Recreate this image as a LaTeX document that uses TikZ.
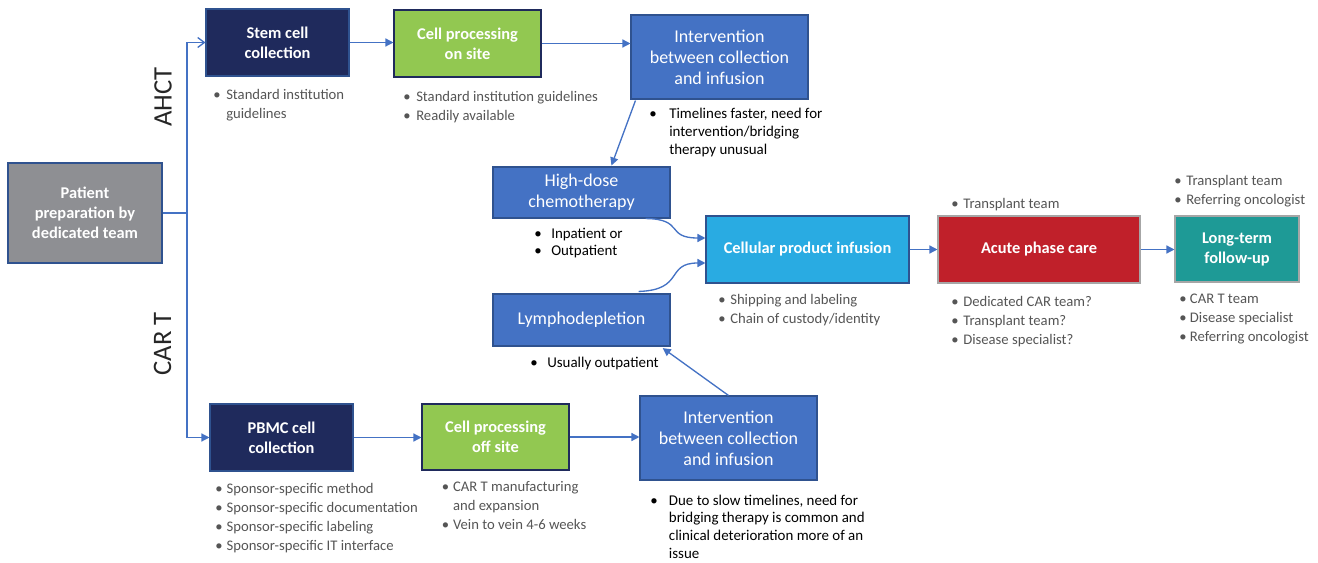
\documentclass[tikz,border=0pt]{standalone}
\usepackage{fontspec}
\setmainfont{Carlito}
\usetikzlibrary{arrows.meta,calc}

\definecolor{navy}{HTML}{1F2A5C}
\definecolor{leaf}{HTML}{92C851}
\definecolor{steel}{HTML}{4472C4}
\definecolor{sky}{HTML}{29ABE2}
\definecolor{crimson}{HTML}{C0202A}
\definecolor{teal}{HTML}{1E9A96}
\definecolor{slate}{HTML}{8E8F93}
\definecolor{rim}{HTML}{2F528F}
\definecolor{rimgray}{HTML}{A6A6A6}
\definecolor{notegray}{HTML}{555555}
\definecolor{titlegray}{HTML}{262626}

\newcommand{\blist}[2]{\begin{tabular}[t]{@{}p{#1}@{}l@{}}#2\end{tabular}}

\begin{document}
\begin{tikzpicture}[x=0.75pt,y=-0.75pt,
  box/.style={draw=#1,line width=0.8pt,inner sep=0pt,align=center,text=white},
  sz/.style 2 args={minimum width=#1*0.75pt,minimum height=#2*0.75pt},
  strong/.style={font=\fontsize{12.3}{15}\selectfont\bfseries},
  light/.style={font=\fontsize{13.5}{15.75}\selectfont},
  note/.style={anchor=base west,inner sep=0pt,text=notegray,font=\fontsize{11}{14.25}\selectfont},
  dark/.style={text=black,font=\fontsize{11.2}{13.25}\selectfont},
  track/.style={text=titlegray,font=\fontsize{20}{24}\selectfont,rotate=90},
  link/.style={draw=steel,line width=1pt,-{Triangle[length=6pt,width=6pt]}}]
\useasboundingbox (0,0) rectangle (1318,563);

% boxes
\node[box=rim,fill=slate,strong,sz={154}{100}] (patient) at (85,213) {Patient\\preparation by\\dedicated team};
\node[box=rim,fill=navy,strong,sz={143}{67}] (stem) at (277.5,42.5) {Stem cell\\collection};
\node[box=navy,fill=leaf,strong,sz={147}{67}] (onsite) at (467.5,43.5) {Cell processing\\on site};
\node[box=rim,fill=steel,light,sz={177}{84}] (intA) at (719.5,57) {Intervention\\between collection\\and infusion};
\node[box=rim,fill=steel,light,sz={177}{51}] (hd) at (581.5,192.5) {High-dose\\chemotherapy};
\node[box=rim,fill=steel,light,sz={177}{52}] (lymph) at (581.5,320) {Lymphodepletion};
\node[box=rim,fill=sky,strong,sz={203}{67}] (cell) at (807.5,249.5) {Cellular product infusion};
\node[box=rimgray,fill=crimson,strong,sz={202}{67}] (acute) at (1039,249.5) {Acute phase care};
\node[box=rimgray,fill=teal,strong,sz={124}{66}] (lt) at (1237,249) {Long-term\\follow-up};
\node[box=rim,fill=navy,strong,sz={143}{67}] (pbmc) at (281.5,437.5) {PBMC cell\\collection};
\node[box=navy,fill=leaf,strong,sz={147}{66}] (offsite) at (495.5,437) {Cell processing\\off site};
\node[box=rim,fill=steel,light,sz={177}{84}] (intB) at (728.5,438) {Intervention\\between collection\\and infusion};

% track labels
\node[track] (ahct) at (163,97) {AHCT};
\node[track] (cart) at (162.5,344) {CAR T};

% notes
\node[note] (stemN) at (213,99.5) {\blist{9.75pt}{\textbullet & Standard institution\\ & guidelines}};
\node[note] (onsiteN) at (403,101.5) {\blist{9.75pt}{\textbullet & Standard institution guidelines\\ \textbullet & Readily available}};
\node[note,dark] (intAN) at (649,119) {\blist{15pt}{\textbullet & Timelines faster, need for\\ & intervention/bridging\\ & therapy unusual}};
\node[note,dark] (hdN) at (534,238.3) {\blist{12.75pt}{\textbullet & Inpatient or\\ \textbullet & Outpatient}};
\node[note,dark] (lymphN) at (530,367.3) {\blist{12.75pt}{\textbullet & Usually outpatient}};
\node[note] (cellN) at (718,304) {\blist{9pt}{\textbullet & Shipping and labeling\\ \textbullet & Chain of custody/identity}};
\node[note] (acuteT) at (951,208.7) {\blist{9pt}{\textbullet & Transplant team}};
\node[note] (acuteN) at (951,306.7) {\blist{9pt}{\textbullet & Dedicated CAR team?\\ \textbullet & Transplant team?\\ \textbullet & Disease specialist?}};
\node[note] (ltT) at (1174,185.7) {\blist{9pt}{\textbullet & Transplant team\\ \textbullet & Referring oncologist}};
\node[note] (ltN) at (1179,303.3) {\blist{8pt}{\textbullet & CAR T team\\ \textbullet & Disease specialist\\ \textbullet & Referring oncologist}};
\node[note] (pbmcN) at (215,493.3) {\blist{8.5pt}{\textbullet & Sponsor-specific method\\ \textbullet & Sponsor-specific documentation\\ \textbullet & Sponsor-specific labeling\\ \textbullet & Sponsor-specific IT interface}};
\node[note] (offsiteN) at (441.5,491.7) {\blist{8.5pt}{\textbullet & CAR T manufacturing\\ & and expansion\\ \textbullet & Vein to vein 4-6 weeks}};
\node[note,dark] (intBN) at (650,505) {\blist{14pt}{\textbullet & Due to slow timelines, need for\\ & bridging therapy is common and\\ & clinical deterioration more of an\\ & issue}};

% connectors
\coordinate (fork) at (187,213);
\draw[steel,line width=1pt] (patient.east) -- (fork);
\draw[link,-{Straight Barb[length=5pt,width=7.5pt]}] (fork) |- (stem.west);
\draw[link] (fork) |- (pbmc.west);
\foreach \a/\b in {stem/onsite,onsite/intA,pbmc/offsite,offsite/intB,cell/acute,acute/lt}
  \draw[link] (\a.east) -- (\a.east -| \b.west);
\draw[link] ($(intA.south west)+(5,1)$) -- ($(hd.north west)+(119,-1)$);
\draw[link,shorten >=2pt] (intB.north) -- ($(lymph.south east)+(-10,0)$);
\draw[link] ($(hd.south east)+(-25,0)$) .. controls (685,219) and (665,238) .. ($(cell.west)+(0,-11.5)$);
\draw[link] ($(lymph.north east)+(-32,-2)$) .. controls (685,290) and (665,263) .. ($(cell.west)+(0,13.5)$);
\end{tikzpicture}
\end{document}
